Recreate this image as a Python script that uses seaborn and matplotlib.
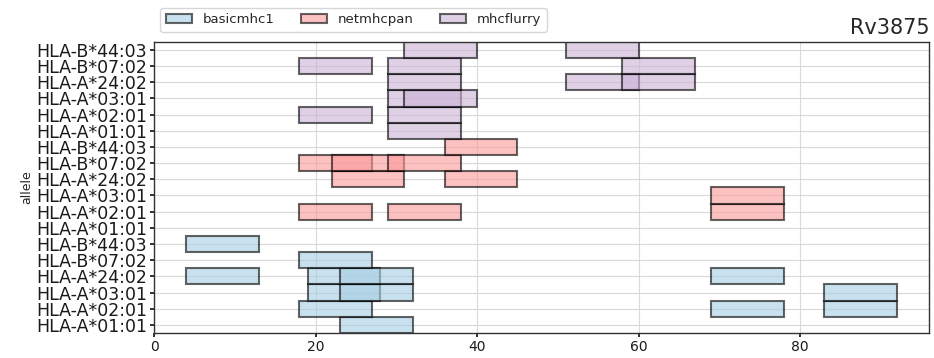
import matplotlib
matplotlib.use("Agg")
import matplotlib.pyplot as plt
from matplotlib.patches import Patch
import seaborn as sns

# Alleles in plotting order (bottom to top within each predictor block)
alleles = ["HLA-A*01:01", "HLA-A*02:01", "HLA-A*03:01",
           "HLA-A*24:02", "HLA-B*07:02", "HLA-B*44:03"]
methods = ["basicmhc1", "netmhcpan", "mhcflurry"]
peptide_length = 9

# Predicted epitopes: allele and start position in the protein
basicmhc1_allele = ["HLA-A*01:01",
                    "HLA-A*02:01", "HLA-A*02:01", "HLA-A*02:01",
                    "HLA-A*03:01", "HLA-A*03:01", "HLA-A*03:01",
                    "HLA-A*24:02", "HLA-A*24:02", "HLA-A*24:02", "HLA-A*24:02",
                    "HLA-B*07:02",
                    "HLA-B*44:03"]
basicmhc1_start = [23,
                   18, 69, 83,
                   19, 23, 83,
                   4, 19, 23, 69,
                   18,
                   4]

netmhcpan_allele = ["HLA-A*02:01", "HLA-A*02:01", "HLA-A*02:01",
                    "HLA-A*03:01",
                    "HLA-A*24:02", "HLA-A*24:02",
                    "HLA-B*07:02", "HLA-B*07:02", "HLA-B*07:02",
                    "HLA-B*44:03"]
netmhcpan_start = [18, 29, 69,
                   69,
                   22, 36,
                   18, 22, 29,
                   36]

mhcflurry_allele = ["HLA-A*01:01",
                    "HLA-A*02:01", "HLA-A*02:01",
                    "HLA-A*03:01", "HLA-A*03:01",
                    "HLA-A*24:02", "HLA-A*24:02", "HLA-A*24:02",
                    "HLA-B*07:02", "HLA-B*07:02", "HLA-B*07:02",
                    "HLA-B*44:03", "HLA-B*44:03"]
mhcflurry_start = [29,
                   18, 29,
                   29, 31,
                   29, 51, 58,
                   18, 29, 58,
                   31, 51]

protein_name = "Rv3875"

sns.set_theme(style="whitegrid", rc={
    "axes.edgecolor": "0.2",
    "axes.linewidth": 1.0,
    "grid.color": "0.85",
    "grid.linewidth": 0.8,
    "xtick.bottom": True,
    "ytick.left": True,
    "xtick.major.size": 3,
    "ytick.major.size": 3,
    "xtick.color": "0.1",
    "ytick.color": "0.1",
})
plt.rcParams["font.family"] = ["DejaVu Sans"]

palette = sns.color_palette("Paired")
colors = {"basicmhc1": palette[0], "netmhcpan": palette[4], "mhcflurry": palette[8]}

data = {
    "basicmhc1": (basicmhc1_allele, basicmhc1_start),
    "netmhcpan": (netmhcpan_allele, netmhcpan_start),
    "mhcflurry": (mhcflurry_allele, mhcflurry_start),
}

fig, ax = plt.subplots(figsize=(9.34, 3.58), dpi=100)
fig.subplots_adjust(left=0.165, right=0.995, top=0.883, bottom=0.07)

n = len(alleles)
ytick_pos, ytick_lab = [], []
for block, method in enumerate(methods):
    allele_list, starts = data[method]
    ys = [block * n + alleles.index(a) for a in allele_list]
    ax.barh(ys, [peptide_length] * len(starts), left=starts, height=1.0,
            color=colors[method], alpha=0.6, edgecolor="black",
            linewidth=1.5, zorder=2)
    for i, a in enumerate(alleles):
        ytick_pos.append(block * n + i)
        ytick_lab.append(a)

ax.set_yticks(ytick_pos)
ax.set_yticklabels(ytick_lab, fontsize=12.5)
ax.set_ylim(-0.5, len(ytick_pos) - 0.5)
ax.set_xlim(0, 96)
ax.set_xticks([0, 20, 40, 60, 80])
ax.tick_params(axis="x", labelsize=10, pad=2)
ax.tick_params(axis="y", pad=2)
ax.set_ylabel("allele", fontsize=9, labelpad=2)
ax.set_title(protein_name, loc="right", fontsize=15, pad=6)
ax.set_axisbelow(True)

handles = [Patch(facecolor=colors[m], alpha=0.6, edgecolor="black",
                 linewidth=1.5, label=m) for m in methods]
ax.legend(handles=handles, ncol=3, loc="lower left",
          bbox_to_anchor=(0.008, 1.035), fontsize=9.5, frameon=True,
          borderaxespad=0)

fig.savefig("out.png", dpi=100)
